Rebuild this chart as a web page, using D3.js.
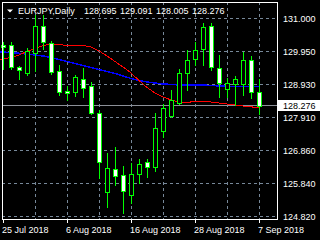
<!DOCTYPE html>
<html>
<head>
<meta charset="utf-8">
<script src="https://cdn.jsdelivr.net/npm/d3@7"></script>
<style>
  html, body { margin: 0; padding: 0; background: #000; overflow: hidden; }
  text { font-family: "Liberation Sans", Arial, sans-serif; font-size: 9px; }
</style>
</head>
<body>
<svg id="chart" width="320" height="240"></svg>
<script>
// daily bars, 25 Jul - 7 Sep 2018
var dates = ["2018-07-25","2018-07-26","2018-07-27","2018-07-30","2018-07-31","2018-08-01","2018-08-02","2018-08-03",
  "2018-08-06","2018-08-07","2018-08-08","2018-08-09","2018-08-10","2018-08-13","2018-08-14","2018-08-15",
  "2018-08-16","2018-08-17","2018-08-20","2018-08-21","2018-08-22","2018-08-23","2018-08-24","2018-08-27",
  "2018-08-28","2018-08-29","2018-08-30","2018-08-31","2018-09-03","2018-09-04","2018-09-05","2018-09-06","2018-09-07"];

var open  = [130.158,130.167,129.471,129.284,129.908,130.760,130.220,129.356,128.716,128.691,129.106,128.878,128.036,125.571,126.289,126.111,
  125.487,126.133,126.507,126.370,127.493,127.952,128.348,129.284,129.721,130.033,130.760,129.440,128.785,128.941,128.941,129.699,128.695];
var high  = [130.261,130.251,129.512,130.064,131.103,131.103,130.292,129.543,128.888,129.231,129.440,129.013,128.139,126.788,126.994,126.392,
  126.476,126.610,126.610,128.036,128.326,128.763,129.409,130.011,130.270,130.844,130.844,129.855,129.128,129.200,129.958,129.824,129.091];
var low   = [129.418,129.409,129.106,129.231,129.356,130.033,129.253,128.607,128.451,128.576,128.554,128.014,126.008,125.122,125.799,124.916,
  125.247,125.861,126.058,126.236,127.306,127.920,128.326,128.763,129.543,129.543,129.387,128.535,128.535,128.295,128.607,128.504,128.005];
var close = [130.105,129.471,129.378,129.989,130.760,130.251,129.334,128.691,128.654,129.159,128.816,128.036,126.507,126.320,126.080,125.621,
  126.142,126.454,126.351,127.568,128.192,128.451,129.284,129.699,130.011,130.719,129.490,128.972,128.972,129.097,129.699,128.691,128.276];

// moving averages start one bar earlier (24 Jul)
var maDates = ["2018-07-24"].concat(dates);
var redMA  = [129.699,129.730,129.777,129.855,129.964,130.058,130.151,130.189,130.183,130.151,130.167,130.151,130.105,129.980,129.824,129.652,129.481,
  129.293,129.059,128.841,128.669,128.545,128.451,128.389,128.379,128.398,128.404,128.389,128.357,128.326,128.295,128.264,128.233,128.223];
var blueMA = [129.964,129.949,129.927,129.908,129.886,129.855,129.824,129.777,129.715,129.652,129.590,129.527,129.465,129.403,129.340,129.278,129.200,
  129.122,129.059,129.013,128.981,128.950,128.935,128.919,128.919,128.919,128.919,128.903,128.888,128.878,128.872,128.872,128.872,128.872];

var priceTicks = [131.000, 129.950, 128.930, 127.910, 126.860, 125.840, 124.820];
var gridDates = ["2018-07-31","2018-08-06","2018-08-10","2018-08-16","2018-08-22","2018-08-28","2018-09-03","2018-09-07"];
var dateTicks = ["2018-07-25","2018-08-06","2018-08-16","2018-08-28","2018-09-07"];
var symbol = "EURJPY,Daily";

var svg = d3.select("#chart");
var L = 2, R = 277, T = 2, B = 219;
var gridColor = "#778899", candleColor = "#00ff00";

var x = d3.scalePoint().domain(maDates).range([-5, 259]);
var y = d3.scaleLinear().domain([124.82, 131]).range([216.3, 18.3]);
var snap = function(v) { return Math.floor(v) + 0.5; };
var parse = d3.timeParse("%Y-%m-%d"), fmtDate = d3.timeFormat("%-d %b %Y");

svg.append("rect").attr("width", 320).attr("height", 240).attr("fill", "#000");

var g = svg.append("g").attr("shape-rendering", "crispEdges");

// grid
g.selectAll("line.hgrid").data(priceTicks).enter().append("line")
  .attr("x1", L).attr("x2", R)
  .attr("y1", function(d) { return snap(y(d)); }).attr("y2", function(d) { return snap(y(d)); })
  .attr("stroke", gridColor).attr("stroke-dasharray", "3,3");
g.selectAll("line.vgrid").data(gridDates).enter().append("line")
  .attr("x1", function(d) { return x(d) + 0.5; }).attr("x2", function(d) { return x(d) + 0.5; })
  .attr("y1", T).attr("y2", B)
  .attr("stroke", gridColor).attr("stroke-dasharray", "3,3");

// bid line
var last = dates.length - 1;
g.append("line").attr("x1", L).attr("x2", R)
  .attr("y1", snap(y(close[last]))).attr("y2", snap(y(close[last])))
  .attr("stroke", "#8c9098");

// moving averages
var maLine = d3.line().x(function(d, i) { return x(maDates[i]); }).y(function(d) { return y(d); });
g.append("path").attr("d", maLine(blueMA)).attr("fill", "none").attr("stroke", "#0000ff").attr("stroke-width", 1.5);
g.append("path").attr("d", maLine(redMA)).attr("fill", "none").attr("stroke", "#ff0000").attr("stroke-width", 1);

// candles
var candles = g.selectAll("g.candle").data(dates).enter().append("g");
candles.append("line")
  .attr("x1", function(d) { return x(d) + 0.5; }).attr("x2", function(d) { return x(d) + 0.5; })
  .attr("y1", function(d, i) { return Math.round(y(high[i])); })
  .attr("y2", function(d, i) { return Math.round(y(low[i])) + 1; })
  .attr("stroke", candleColor);
candles.append("rect")
  .attr("x", function(d) { return x(d) - 1.5; })
  .attr("y", function(d, i) { return Math.round(y(Math.max(open[i], close[i]))) + 0.5; })
  .attr("width", 4)
  .attr("height", function(d, i) {
    return Math.max(1, Math.round(y(Math.min(open[i], close[i]))) - Math.round(y(Math.max(open[i], close[i]))));
  })
  .attr("fill", function(d, i) { return close[i] >= open[i] ? "#000" : "#fff"; })
  .attr("stroke", candleColor);

// frame
g.append("rect").attr("x", L + 0.5).attr("y", T + 0.5).attr("width", R - L).attr("height", B - T)
  .attr("fill", "none").attr("stroke", "#fff");
svg.append("rect").attr("x", R + 1).attr("y", 0).attr("width", 320 - R - 1).attr("height", 240).attr("fill", "#000");

// price axis
g.selectAll("line.ptick").data(priceTicks).enter().append("line")
  .attr("x1", R + 1).attr("x2", R + 4)
  .attr("y1", function(d) { return snap(y(d)); }).attr("y2", function(d) { return snap(y(d)); })
  .attr("stroke", "#fff");
svg.selectAll("text.plabel").data(priceTicks).enter().append("text")
  .attr("x", 283).attr("y", function(d) { return snap(y(d)) + 3.5; })
  .attr("fill", "#fff").text(function(d) { return d.toFixed(3); });

var by = snap(y(close[last]));
svg.append("rect").attr("x", R + 1).attr("y", by - 5.5).attr("width", 320 - R - 1).attr("height", 11).attr("fill", "#fff");
svg.append("text").attr("x", 283).attr("y", by + 3.5).attr("fill", "#000").text(close[last].toFixed(3));

// time axis
g.selectAll("line.dtick").data(dateTicks).enter().append("line")
  .attr("x1", function(d) { return x(d) + 0.5; }).attr("x2", function(d) { return x(d) + 0.5; })
  .attr("y1", B).attr("y2", B + 4).attr("stroke", "#fff");
svg.selectAll("text.dlabel").data(dateTicks).enter().append("text")
  .attr("x", function(d) { return x(d) - 1; }).attr("y", 232.5)
  .attr("fill", "#fff").text(function(d) { return fmtDate(parse(d)); });

// header
svg.append("path").attr("d", "M7,9.5 L13,9.5 L10,12.5 Z").attr("fill", "#fff");
svg.append("text").attr("x", 18).attr("y", 14).attr("fill", "#fff").text(symbol);
var ohlc = [open[last], high[last], low[last], close[last]];
svg.selectAll("text.ohlc").data(ohlc).enter().append("text")
  .attr("x", function(d, i) { return 84 + i * 36; }).attr("y", 14)
  .attr("fill", "#fff").text(function(d) { return d.toFixed(3); });
</script>
</body>
</html>
